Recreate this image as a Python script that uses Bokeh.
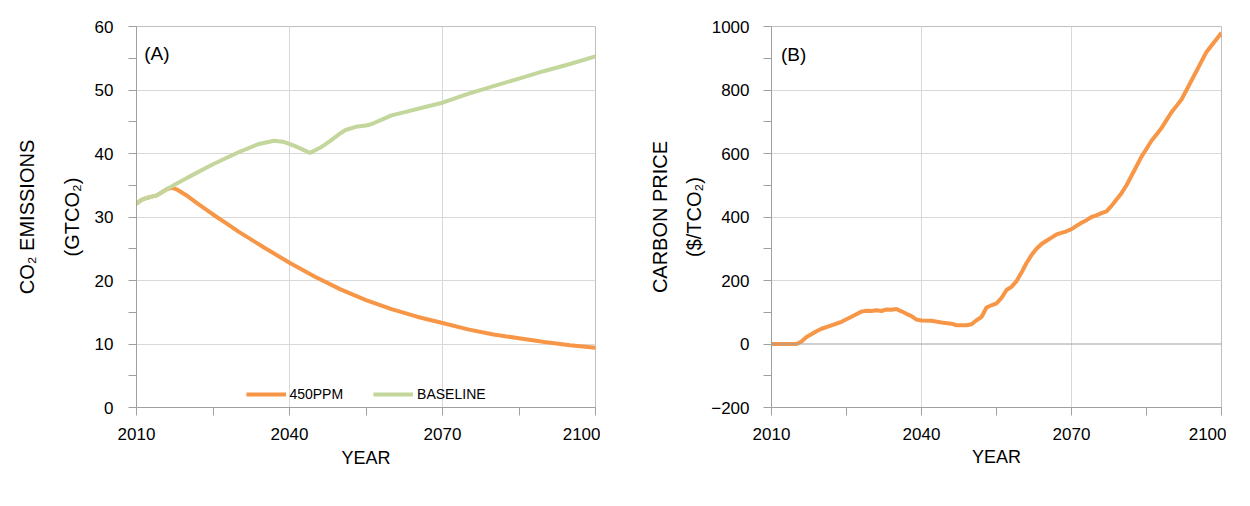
from bokeh.plotting import figure
from bokeh.models import Range1d, FixedTicker, Legend, LegendItem, Label, Title, Span
from bokeh.layouts import row
from bokeh.embed import file_html
from bokeh.resources import INLINE

# ---------------- data ----------------
years_base = [2010, 2011, 2012, 2013, 2014, 2016, 2018, 2020, 2025, 2030, 2034, 2037,
              2039, 2041, 2044, 2046, 2048, 2050, 2051, 2053, 2055, 2056, 2058, 2060,
              2063, 2066, 2070, 2075, 2080, 2085, 2090, 2095, 2100]
baseline = [32.1, 32.7, 33.0, 33.2, 33.4, 34.4, 35.3, 36.2, 38.3, 40.2, 41.5, 42.0,
            41.8, 41.2, 40.1, 40.9, 42.0, 43.2, 43.7, 44.2, 44.4, 44.6, 45.3, 46.0,
            46.6, 47.2, 48.0, 49.4, 50.6, 51.8, 53.0, 54.1, 55.3]

years_450 = [2010, 2011, 2012, 2013, 2014, 2016, 2017, 2018, 2020, 2022, 2025, 2028,
             2030, 2035, 2040, 2045, 2050, 2055, 2060, 2065, 2070, 2075, 2080, 2085,
             2090, 2095, 2100]
ppm450 = [32.1, 32.7, 33.0, 33.2, 33.4, 34.4, 34.6, 34.3, 33.3, 32.1, 30.4, 28.8,
          27.7, 25.2, 22.8, 20.6, 18.6, 16.9, 15.5, 14.3, 13.3, 12.3, 11.5, 10.9,
          10.3, 9.8, 9.4]

years_price = [2010, 2015, 2016, 2017, 2019, 2020, 2022, 2024, 2026, 2028, 2029, 2030,
               2031, 2032, 2033, 2034, 2035, 2036, 2037, 2038, 2039, 2040, 2042, 2044,
               2046, 2047, 2049, 2050, 2051, 2052, 2053, 2054, 2055, 2056, 2057, 2058,
               2059, 2060, 2061, 2062, 2063, 2064, 2065, 2066, 2067, 2068, 2069, 2070,
               2071, 2072, 2073, 2074, 2075, 2076, 2077, 2078, 2079, 2080, 2081, 2082,
               2083, 2084, 2085, 2086, 2087, 2088, 2089, 2090, 2091, 2092, 2093, 2094,
               2095, 2096, 2097, 2098, 2099, 2100]
price = [0, 0, 8, 22, 40, 48, 59, 70, 86, 102, 105, 104,
         106, 104, 109, 108, 110, 103, 95, 88, 77, 74, 73, 68,
         64, 59, 59, 62, 75, 85, 115, 122, 128, 145, 170, 180,
         198, 225, 255, 280, 300, 315, 325, 335, 345, 350, 355, 362,
         372, 382, 390, 400, 405, 412, 418, 435, 455, 475, 500, 530,
         560, 590, 615, 640, 660, 680, 705, 730, 750, 770, 800, 830,
         860, 890, 920, 940, 960, 980]

x_major = [2010, 2040, 2070, 2100]
x_minor = [2025, 2055, 2085]
x_grid = [2040, 2070]

ya_major = [0, 10, 20, 30, 40, 50, 60]
ya_minor = [5, 15, 25, 35, 45, 55]
ya_grid = [10, 20, 30, 40, 50]
yb_major = [-200, 0, 200, 400, 600, 800, 1000]
yb_minor = [-100, 100, 300, 500, 700, 900]
yb_grid = [200, 400, 600, 800]

# ---------------- style ----------------
FONT = "Liberation Sans"
ORANGE = "#F79646"
GREEN = "#C3D69B"
AXIS = "#A0A0A0"
GRID = "#D9D9D9"
BORDER = "#BFBFBF"


def style_axis(ax, label_std):
    ax.axis_line_color = AXIS
    ax.major_tick_line_color = AXIS
    ax.minor_tick_line_color = AXIS
    ax.major_tick_out = 8
    ax.major_tick_in = 0
    ax.minor_tick_out = 8
    ax.minor_tick_in = 0
    ax.major_label_standoff = label_std
    ax.major_label_text_font = FONT
    ax.major_label_text_font_size = "17px"
    ax.major_label_text_color = "#000000"


def side_title(text, standoff, size="20px"):
    return Title(text=text, align="center", text_font=FONT, text_font_size=size,
                 text_font_style="normal", text_color="#000000", standoff=standoff)


def top_pad():
    return Title(text=" ", text_font=FONT, text_font_size="12px", standoff=10)


# ---------------- chart A ----------------
p1 = figure(width=600, height=470, output_backend="svg", toolbar_location=None,
            x_range=Range1d(2010, 2100), y_range=Range1d(0, 60))
p1.outline_line_color = BORDER
p1.border_fill_color = "#FFFFFF"

r_o = p1.line(years_450, ppm450, line_color=ORANGE, line_width=4)
r_g = p1.line(years_base, baseline, line_color=GREEN, line_width=4)

p1.xaxis.ticker = FixedTicker(ticks=x_major, minor_ticks=x_minor)
p1.yaxis.ticker = FixedTicker(ticks=ya_major, minor_ticks=ya_minor)
style_axis(p1.xaxis[0], 12)
style_axis(p1.yaxis[0], 15)

p1.xgrid.ticker = FixedTicker(ticks=x_grid)
p1.ygrid.ticker = FixedTicker(ticks=ya_grid)
p1.xgrid.grid_line_color = GRID
p1.ygrid.grid_line_color = GRID

p1.add_layout(top_pad(), "above")
p1.add_layout(side_title("(GTCO\u2082)", 17), "left")
p1.add_layout(side_title("CO\u2082 EMISSIONS", 26), "left")
p1.add_layout(side_title("YEAR", 6, "18px"), "below")

p1.add_layout(Label(x=2011.5, y=55.8, text="(A)", text_font=FONT, text_font_size="19px",
                    text_baseline="middle", text_align="left", text_color="#000000"))

legend = Legend(items=[LegendItem(label="450PPM", renderers=[r_o]),
                       LegendItem(label="BASELINE", renderers=[r_g])],
                orientation="horizontal", location="bottom_center",
                label_text_font=FONT, label_text_font_size="14px",
                label_text_color="#000000",
                glyph_width=40, glyph_height=18, label_standoff=4, spacing=30,
                padding=2, margin=4, border_line_color=None,
                background_fill_alpha=0)
p1.add_layout(legend, "center")

# ---------------- chart B ----------------
p2 = figure(width=586, height=470, output_backend="svg", toolbar_location=None,
            x_range=Range1d(2010, 2100), y_range=Range1d(-200, 1000))
p2.outline_line_color = BORDER
p2.border_fill_color = "#FFFFFF"

p2.line(years_price, price, line_color=ORANGE, line_width=4)

p2.xaxis.ticker = FixedTicker(ticks=x_major, minor_ticks=x_minor)
p2.yaxis.ticker = FixedTicker(ticks=yb_major, minor_ticks=yb_minor)
style_axis(p2.xaxis[0], 12)
style_axis(p2.yaxis[0], 14)

p2.add_layout(Span(location=0, dimension="width", line_color=AXIS, line_width=1))

p2.add_layout(top_pad(), "above")
p2.add_layout(side_title("($/TCO\u2082)", 7), "left")
p2.add_layout(side_title("CARBON PRICE", 13), "left")
p2.add_layout(side_title("YEAR", 5, "18px"), "below")

p2.xgrid.ticker = FixedTicker(ticks=x_grid)
p2.ygrid.ticker = FixedTicker(ticks=yb_grid)
p2.xgrid.grid_line_color = GRID
p2.ygrid.grid_line_color = GRID

p2.add_layout(Label(x=2011.9, y=913, text="(B)", text_font=FONT, text_font_size="19px",
                    text_baseline="middle", text_align="left", text_color="#000000"))

layout = row(p1, p2, spacing=40)
open("out.html", "w").write(file_html(layout, INLINE))
